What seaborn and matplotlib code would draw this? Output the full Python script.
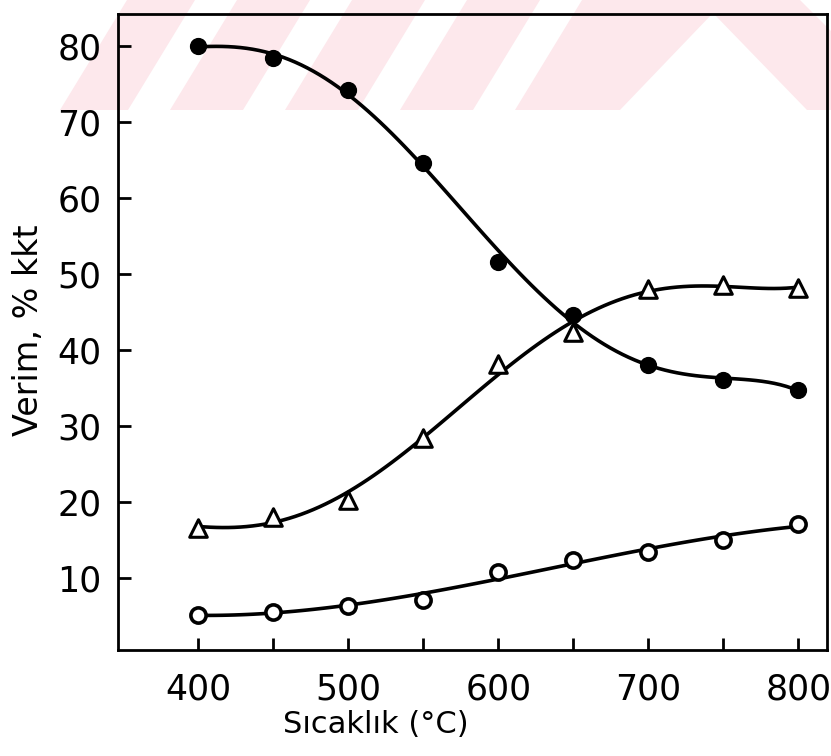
import numpy as np
import pandas as pd
import matplotlib
matplotlib.use("Agg")
import matplotlib.pyplot as plt
from matplotlib.patches import Polygon
import seaborn as sns

# Temperature (°C) and yields (% kkt) for the three product fractions
temperature = [400, 450, 500, 550, 600, 650, 700, 750, 800]
yield_filled = [80.0, 78.4, 74.2, 64.6, 51.6, 44.6, 38.0, 36.0, 34.7]
yield_triangle = [16.6, 18.0, 20.3, 28.4, 38.2, 42.4, 48.0, 48.5, 48.2]
yield_open = [5.1, 5.5, 6.3, 7.1, 10.7, 12.4, 13.4, 15.0, 17.1]

x_ticks = [400, 450, 500, 550, 600, 650, 700, 750, 800]
x_tick_labels = ["400", "", "500", "", "600", "", "700", "", "800"]
y_ticks = [10, 20, 30, 40, 50, 60, 70, 80]

df = pd.DataFrame({
    "temperature": temperature * 3,
    "yield": yield_filled + yield_triangle + yield_open,
    "series": ["filled"] * 9 + ["triangle"] * 9 + ["open"] * 9,
})

sns.set_theme(style="ticks")
plt.rcParams["font.family"] = ["DejaVu Sans"]
plt.rcParams["axes.labelcolor"] = "black"
plt.rcParams["text.color"] = "black"

W, H = 831, 756
fig = plt.figure(figsize=(W / 100, H / 100), dpi=100)
fig.patch.set_facecolor("white")


def px(points):
    return [(x / W, 1 - y / H) for x, y in points]


# faint pink watermark band across the top, kept behind the axes
pink = "#fde8ec"
fig.patches.append(Polygon(px([(60, 110), (127, 0), (831, 0), (831, 110)]),
                           closed=True, transform=fig.transFigure,
                           facecolor=pink, edgecolor="none", zorder=-3))
for b in [128, 243, 358, 473]:
    fig.patches.append(Polygon(px([(b, 110), (b + 42, 110), (b + 109, 0), (b + 67, 0)]),
                               closed=True, transform=fig.transFigure,
                               facecolor="white", edgecolor="none", zorder=-2))
fig.patches.append(Polygon(px([(620, 110), (713, 13), (807, 110)]),
                           closed=True, transform=fig.transFigure,
                           facecolor="white", edgecolor="none", zorder=-2))
fig.patches.append(Polygon(px([(800, 0), (831, 0), (831, 31)]),
                           closed=True, transform=fig.transFigure,
                           facecolor="white", edgecolor="none", zorder=-2))

ax = fig.add_axes([118 / W, (H - 650) / H, (827 - 118) / W, (650 - 14) / H])
ax.set_facecolor("none")
ax.set_zorder(1)

styles = {
    "filled": dict(marker="o", s=130, color="black", edgecolor="black", linewidth=1),
    "triangle": dict(marker="^", s=160, color="white", edgecolor="black", linewidth=2.2),
    "open": dict(marker="o", s=120, color="white", edgecolor="black", linewidth=2.6),
}
orders = {"filled": 5, "triangle": 5, "open": 3}

for name, sub in df.groupby("series"):
    sns.regplot(data=sub, x="temperature", y="yield", order=orders[name], ci=None,
                scatter=False, truncate=True, ax=ax,
                line_kws=dict(color="black", lw=2.6, zorder=2))
    sns.scatterplot(data=sub, x="temperature", y="yield", ax=ax, zorder=3,
                    legend=False, **styles[name])

ax.set_xlim(346.7, 819)
ax.set_ylim(0.5, 84.2)
ax.set_xticks(x_ticks)
ax.set_xticklabels(x_tick_labels)
ax.set_yticks(y_ticks)
ax.tick_params(direction="in", length=9, width=2, labelsize=25, colors="black")
ax.tick_params(axis="x", pad=16)
ax.tick_params(axis="y", pad=12)
for s in ax.spines.values():
    s.set_visible(True)
    s.set_linewidth(2)
    s.set_color("black")

ax.set_xlabel("Sıcaklık (°C)", fontsize=22)
ax.xaxis.set_label_coords(0.364, -0.095)
ax.set_ylabel("Verim, % kkt", fontsize=24)
ax.yaxis.set_label_coords(-0.103, 0.503)

fig.savefig("out.png", dpi=100, facecolor="white")
